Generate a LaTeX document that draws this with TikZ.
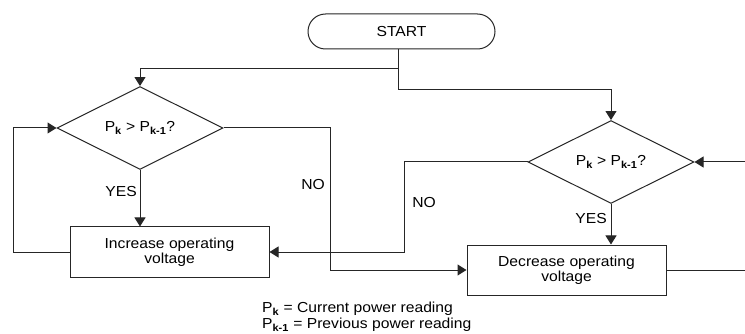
\documentclass[tikz,border=0pt]{standalone}
\usepackage{fontspec}
\setmainfont[FakeStretch=1.08]{Liberation Sans}
\usetikzlibrary{shapes.geometric,shapes.misc,arrows.meta}
\newcommand{\sub}[1]{\textsubscript{\textbf{#1}}}
\begin{document}
\begin{tikzpicture}[x=1pt,y=-1pt,
  every node/.style={font=\fontsize{14.5}{15}\selectfont, text=black},
  ln/.style={draw=black!85, line width=1pt},
  arr/.style={ln, -{Triangle[width=11pt,length=9pt]}},
  startbox/.style={ln, rounded rectangle, minimum width=187pt, minimum height=35pt, inner sep=0pt},
  decis/.style={ln, diamond, minimum width=166pt, minimum height=70pt, inner sep=0pt},
  procbox/.style={ln, rectangle, minimum width=199pt, minimum height=50pt, align=center, inner sep=0pt},
  lbl/.style={inner sep=0pt}]
\useasboundingbox (0,0) rectangle (745,334);
\fill[white] (0,0) rectangle (745,334);

\node[startbox] (start) at (401.5,31.5) {START};
\node[decis] (d1) at (140,128) {P\sub{k} > P\sub{k-1}?};
\node[decis] (d2) at (611,162) {P\sub{k} > P\sub{k-1}?};
\node[procbox] (inc) at (169.5,252) {Increase operating\\voltage};
\node[procbox] (dec) at (566.5,270) {Decrease operating\\voltage};

\coordinate (s0) at (398,49);
\coordinate (s1) at (398,69);
\coordinate (s2) at (398,90);
\coordinate (n1) at (330,128);
\coordinate (l1) at (13,252);
\coordinate (n2) at (404,162);
\coordinate (e1) at (746,270);
\coordinate (e2) at (746,162);

\draw[ln] (s0) -- (s2);
\draw[arr] (s1) -| (d1.north);
\draw[arr] (s2) -| (d2.north);
\draw[arr] (d1.south) -- (d1.south |- inc.north);
\draw[arr] (d1.east) -- (n1) |- (dec.west);
\draw[arr] (inc.west) -- (l1) |- (d1.west);
\draw[arr] (d2.west) -- (n2) |- (inc.east);
\draw[arr] (d2.south) -- (d2.south |- dec.north);
\draw[ln] (dec.east) -- (e1);
\draw[arr] (e2) -- (d2.east);

\node[lbl, anchor=east] (yes1) at (137,192) {YES};
\node[lbl] (no1) at (313,185) {NO};
\node[lbl] (no2) at (424,203) {NO};
\node[lbl, anchor=east] (yes2) at (607,219) {YES};

\node[lbl, anchor=west] (leg1) at (262,309) {P\sub{k} = Current power reading};
\node[lbl, anchor=west] (leg2) at (262,325) {P\sub{k-1} = Previous power reading};
\end{tikzpicture}
\end{document}
